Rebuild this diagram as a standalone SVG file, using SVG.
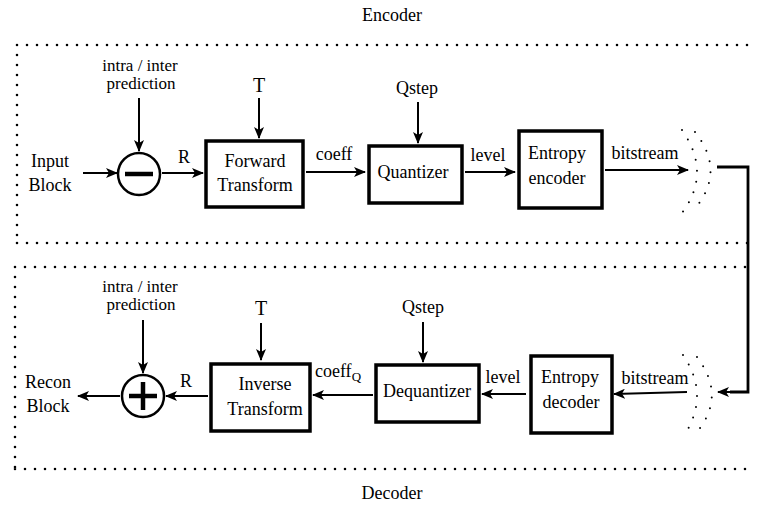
<svg xmlns="http://www.w3.org/2000/svg" width="757" height="505" viewBox="0 0 757 505">
<style>
text{font-family:"Liberation Serif","Times New Roman",serif;font-size:18px;fill:#000;text-anchor:middle}
.sm{font-size:17px}
.box{fill:#fff;stroke:#000;stroke-width:3.5}
.ln{fill:none;stroke:#000;stroke-width:2}
.arr{fill:none;stroke:#000;stroke-width:2;marker-end:url(#ah)}
.dot{fill:none;stroke:#000;stroke-width:2.6;stroke-linecap:round;stroke-dasharray:0 10}
.dot2{fill:none;stroke:#000;stroke-width:2;stroke-linecap:round;stroke-dasharray:0 11}
.circ{fill:#fff;stroke:#000;stroke-width:2.5}
</style>
<defs>
<marker id="ah" markerWidth="12" markerHeight="10" refX="11" refY="5" orient="auto" markerUnits="userSpaceOnUse">
<path d="M0,0 L12,5 L0,10 L3,5 Z" fill="#000"/>
</marker>
</defs>
<rect width="757" height="505" fill="#fff"/>
<g id="frames">
<path class="dot" d="M17,45 H752 M17,45 V243 M17,243 H752"/>
<path class="dot" d="M15,267 H752 M15,267 V469 M15,469 H752"/>
<text x="392" y="21">Encoder</text>
<text x="392" y="499">Decoder</text>
</g>
<g id="connectors">
<line class="arr" x1="139" y1="98" x2="139" y2="151"/>
<line class="arr" x1="259" y1="98" x2="259" y2="138"/>
<line class="arr" x1="418" y1="102" x2="418" y2="143"/>
<line class="arr" x1="83" y1="173" x2="117" y2="173"/>
<line class="arr" x1="162" y1="173" x2="203" y2="173"/>
<line class="arr" x1="306" y1="172" x2="365" y2="172"/>
<line class="arr" x1="465" y1="172" x2="515" y2="172"/>
<line class="arr" x1="605" y1="170" x2="688" y2="170"/>
<polyline fill="none" stroke="#000" stroke-width="2.8" points="717,167 748,167 748,392 730,392"/>
<line class="arr" x1="748" y1="392" x2="718" y2="392" stroke-width="2.8"/>
<line class="arr" x1="143" y1="320" x2="143" y2="373"/>
<line class="arr" x1="261" y1="323" x2="261" y2="360"/>
<line class="arr" x1="423" y1="322" x2="423" y2="362"/>
<line class="arr" x1="120" y1="396" x2="78" y2="396"/>
<line class="arr" x1="208" y1="396" x2="166" y2="396"/>
<line class="arr" x1="373" y1="395" x2="313" y2="395"/>
<line class="arr" x1="526" y1="394" x2="482" y2="394"/>
<line class="arr" x1="687" y1="392" x2="614" y2="394"/>
</g>
<g id="bits-enc">
<path class="dot2" d="M682,130 Q712,173 682,213"/>
<path class="dot2" d="M695,132 Q725,170 697,206"/>
</g>
<g id="bits-dec">
<path class="dot2" d="M683,355 Q711,396 683,437"/>
<path class="dot2" d="M697,357 Q725,394 700,428"/>
</g>
<g id="sub">
<circle class="circ" cx="139" cy="174" r="21"/>
<line x1="125" y1="174" x2="153" y2="174" stroke="#000" stroke-width="4.5"/>
</g>
<g id="add">
<circle class="circ" cx="143" cy="396" r="21"/>
<line x1="129" y1="396" x2="157" y2="396" stroke="#000" stroke-width="4.5"/>
<line x1="143" y1="382" x2="143" y2="410" stroke="#000" stroke-width="4.5"/>
</g>
<g id="fwd">
<rect class="box" x="206" y="141" width="97" height="66"/>
<text x="255" y="167">Forward</text>
<text x="255" y="191">Transform</text>
</g>
<g id="quant">
<rect class="box" x="369" y="146" width="93" height="57"/>
<text x="413" y="178">Quantizer</text>
</g>
<g id="entenc">
<rect class="box" x="519" y="131" width="83" height="77"/>
<text x="557" y="159">Entropy</text>
<text x="557" y="184">encoder</text>
</g>
<g id="inv">
<rect class="box" x="211" y="364" width="99" height="67"/>
<text x="265" y="390">Inverse</text>
<text x="265" y="415">Transform</text>
</g>
<g id="dequant">
<rect class="box" x="376" y="365" width="103" height="57"/>
<text x="427" y="397">Dequantizer</text>
</g>
<g id="entdec">
<rect class="box" x="531" y="356" width="81" height="77"/>
<text x="570" y="383">Entropy</text>
<text x="571" y="408">decoder</text>
</g>
<g id="labels">
<text class="sm" x="140" y="71">intra / inter</text>
<text class="sm" x="141" y="89">prediction</text>
<text x="259" y="92" style="font-size:20px">T</text>
<text x="50" y="167">Input</text>
<text x="50" y="191">Block</text>
<text x="184" y="163">R</text>
<text x="334" y="160">coeff</text>
<text x="417" y="94">Qstep</text>
<text x="488" y="161">level</text>
<text x="645" y="159">bitstream</text>
<text class="sm" x="140" y="292">intra / inter</text>
<text class="sm" x="141" y="310">prediction</text>
<text x="261" y="315" style="font-size:20px">T</text>
<text x="48" y="388">Recon</text>
<text x="48" y="412">Block</text>
<text x="186" y="387">R</text>
<text x="338" y="377">coeff<tspan font-size="13" dy="4">Q</tspan></text>
<text x="423" y="313">Qstep</text>
<text x="503" y="383">level</text>
<text x="655" y="384">bitstream</text>
</g>
</svg>
